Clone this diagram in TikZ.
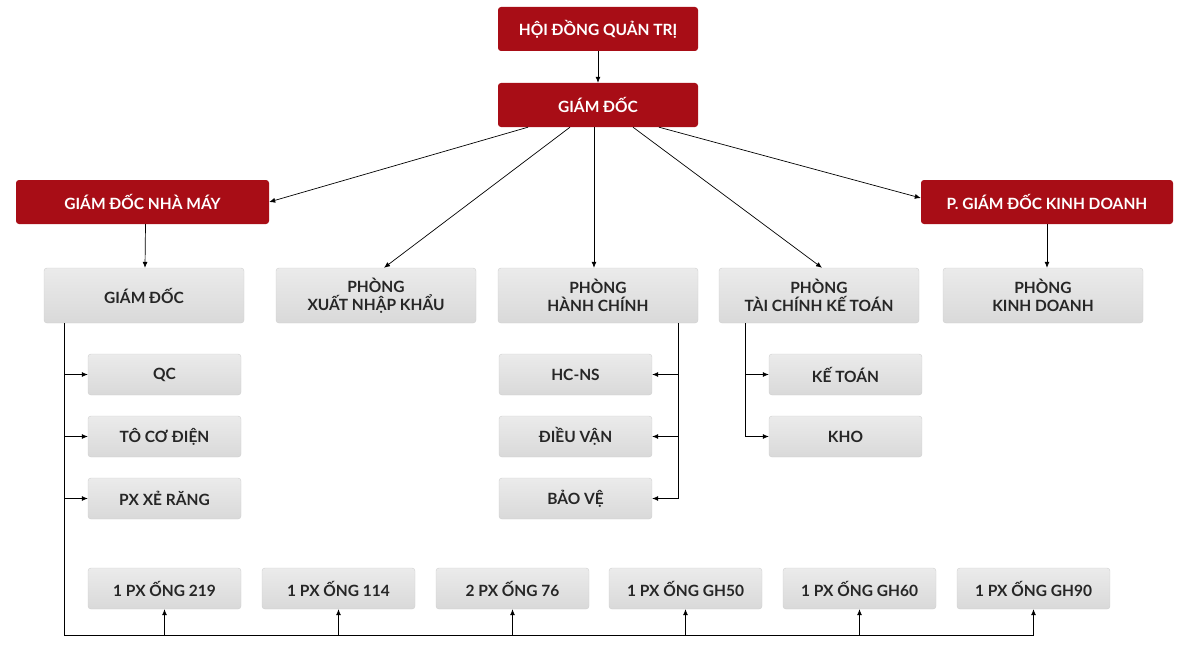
\documentclass[tikz,border=0pt]{standalone}
\usepackage{fontspec}
\setmainfont{Lato}
\usetikzlibrary{arrows.meta}
\definecolor{boxred}{HTML}{A80D16}
\definecolor{gtop}{HTML}{EBEBEB}
\definecolor{gbot}{HTML}{D9D9D9}
\definecolor{gline}{HTML}{CFCFCF}
\definecolor{txt}{HTML}{262626}
\tikzset{
  redbox/.style={draw=none,fill=boxred,rounded corners=3pt,text=white,font=\bfseries\fontsize{15.5}{18}\selectfont,inner sep=0pt,align=center},
  greybox/.style={draw=gline,top color=gtop,bottom color=gbot,rounded corners=3pt,text=txt,font=\bfseries\fontsize{15.5}{18.5}\selectfont,inner sep=0pt,align=center},
  conn/.style={line width=0.7pt,black},
  arr/.style={conn,-{Latex[length=6pt,width=5pt]}},
}
\begin{document}
\begin{tikzpicture}[x=1pt,y=-1pt]
\useasboundingbox (0,0) rectangle (1181,661);
% red boxes
\node[redbox,minimum width=200pt,minimum height=44pt] (hdqt) at (598,29) {HỘI ĐỒNG QUẢN TRỊ};
\node[redbox,minimum width=200pt,minimum height=44pt] (gd) at (598,105) {GIÁM ĐỐC};
\node[redbox,minimum width=253pt,minimum height=44pt] (gdnm) at (142.5,202) {GIÁM ĐỐC NHÀ MÁY};
\node[redbox,minimum width=252pt,minimum height=44pt] (pgdkd) at (1047,202) {P. GIÁM ĐỐC KINH DOANH};
% grey row 1
\node[greybox,minimum width=200pt,minimum height=55pt] (gd2) at (144,295.5) {GIÁM ĐỐC};
\node[greybox,minimum width=200pt,minimum height=55pt] (xnk) at (376,295.5) {PHÒNG\\XUẤT NHẬP KHẨU};
\node[greybox,minimum width=200pt,minimum height=55pt] (hc) at (598,295.5) {PHÒNG\\HÀNH CHÍNH};
\node[greybox,minimum width=200pt,minimum height=55pt] (tckt) at (819,295.5) {PHÒNG\\TÀI CHÍNH KẾ TOÁN};
\node[greybox,minimum width=200pt,minimum height=55pt] (kd) at (1043,295.5) {PHÒNG\\KINH DOANH};
% left column
\node[greybox,minimum width=153pt,minimum height=41pt] (qc) at (164.5,374.5) {QC};
\node[greybox,minimum width=153pt,minimum height=41pt] (tcd) at (164.5,436.5) {TÔ CƠ ĐIỆN};
\node[greybox,minimum width=153pt,minimum height=41pt] (pxr) at (164.5,498.5) {PX XẺ RĂNG};
% HC column
\node[greybox,minimum width=153pt,minimum height=41pt] (hcns) at (575.5,374.5) {HC-NS};
\node[greybox,minimum width=153pt,minimum height=41pt] (dv) at (575.5,436.5) {ĐIỀU VẬN};
\node[greybox,minimum width=153pt,minimum height=41pt] (bv) at (575.5,498.5) {BẢO VỆ};
% TCKT column
\node[greybox,minimum width=153pt,minimum height=41pt] (kt) at (845.5,374.5) {KẾ TOÁN};
\node[greybox,minimum width=153pt,minimum height=41pt] (kho) at (845.5,436.5) {KHO};
% bottom row
\node[greybox,minimum width=153pt,minimum height=41pt] (o1) at (164.5,588.5) {1 PX ỐNG 219};
\node[greybox,minimum width=153pt,minimum height=41pt] (o2) at (338.5,588.5) {1 PX ỐNG 114};
\node[greybox,minimum width=153pt,minimum height=41pt] (o3) at (512.5,588.5) {2 PX ỐNG 76};
\node[greybox,minimum width=153pt,minimum height=41pt] (o4) at (685.5,588.5) {1 PX ỐNG GH50};
\node[greybox,minimum width=153pt,minimum height=41pt] (o5) at (859.5,588.5) {1 PX ỐNG GH60};
\node[greybox,minimum width=153pt,minimum height=41pt] (o6) at (1033.5,588.5) {1 PX ỐNG GH90};
% top connectors
\draw[arr] (hdqt.south) -- (gd.north);
\draw[arr] ([xshift=-70pt]gd.south) -- (gdnm.east);
\draw[arr] ([xshift=-28pt]gd.south) -- ([xshift=8pt]xnk.north);
\draw[arr] ([xshift=-4pt]gd.south) -- ([xshift=-4pt]hc.north);
\draw[arr] ([xshift=35pt]gd.south) -- ([xshift=3pt]tckt.north);
\draw[arr] ([xshift=61pt]gd.south) -- ([yshift=4pt]pgdkd.west);
\draw[arr] ([xshift=3pt]gdnm.south) -- ([xshift=1pt]gd2.north);
\draw[arr] (pgdkd.south) -- ([xshift=4pt]kd.north);
% left bus
\coordinate (lb) at (64,635);
\coordinate (rb) at (1033.5,635);
\draw[conn] (gd2.south -| 64,0) -- (lb) -- (rb);
\foreach \n in {qc,tcd,pxr}{\draw[arr] (\n.west -| 64,0) -- (\n.west);}
\foreach \n in {o1,o2,o3,o4,o5,o6}{\draw[arr] (\n.south |- lb) -- (\n.south);}
% HC bus
\draw[conn] (hc.south -| 678,0) -- (bv.east -| 678,0);
\foreach \n in {hcns,dv,bv}{\draw[arr] (\n.east -| 678,0) -- (\n.east);}
% TCKT bus
\draw[conn] (tckt.south -| 745,0) -- (kho.west -| 745,0);
\foreach \n in {kt,kho}{\draw[arr] (\n.west -| 745,0) -- (\n.west);}
\end{tikzpicture}
\end{document}
